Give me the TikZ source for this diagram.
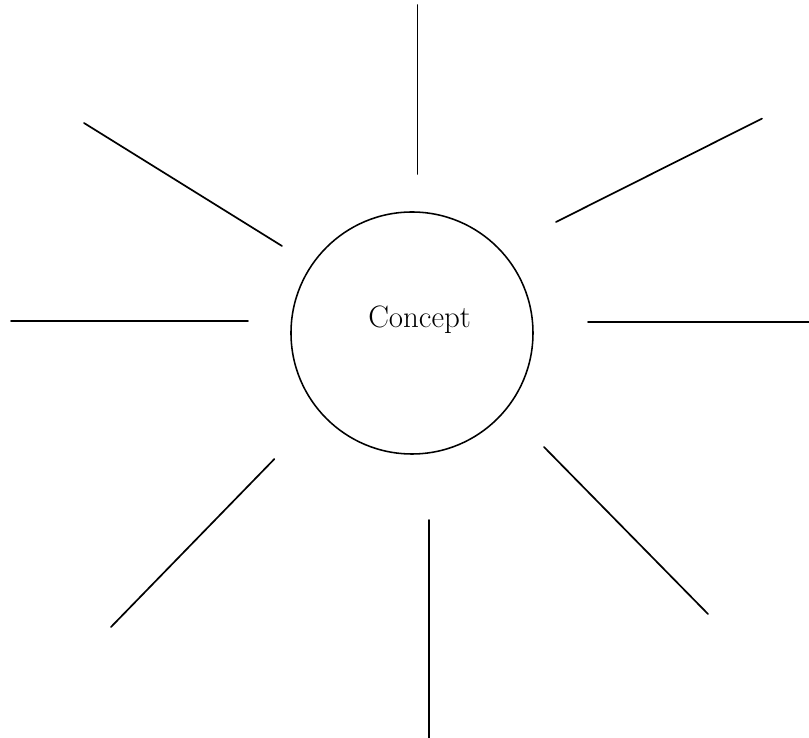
\documentclass[tikz,border=0pt]{standalone}
\usepackage{tikz}
\usetikzlibrary{positioning, calc}

\begin{document}
\begin{tikzpicture}[ray/.style = {line width=1.2pt, line cap=round}, circ/.style = {draw, circle, line width=1.1pt, minimum size=6.05cm, inner sep=0pt} ]

\useasboundingbox (-10.3,8.325) rectangle (9.925,-10.125);

% Concept - the centre
\node[circ] (concept) at (0,0) {};
\node[font=\fontsize{22}{24}\selectfont] (concept_txt) at ([xshift=1.9mm, yshift=3.4mm]concept.center) {Concept};

%--- top ray ---
\coordinate (top_in)  at (0.14, 3.975);
\coordinate (top_out) at (0.14, 8.2);
\draw[ray] (top_in) -- (top_out);

%--- upper right ray ---
\coordinate (ur_in)  at (3.6, 2.775);
\coordinate (ur_out) at (8.75, 5.36);
\draw[ray] (ur_in) -- (ur_out);

%--- right ray ---
\coordinate (r_in)  at (4.4, 0.28);
\coordinate (r_out) at (9.925, 0.28);
\draw[ray] (r_in) -- (r_out);

%--- lower right ray ---
\coordinate (lr_in)  at (3.3, -2.85);
\coordinate (lr_out) at (7.4, -7.025);
\draw[ray] (lr_in) -- (lr_out);

%--- bottom ray ---
\coordinate (bot_in)  at (0.425, -4.675);
\coordinate (bot_out) at (0.425, -10.125);
\draw[ray] (bot_in) -- (bot_out);

%--- lower left ray ---
\coordinate (ll_in)  at (-3.44, -3.15);
\coordinate (ll_out) at (-7.525, -7.35);
\draw[ray] (ll_in) -- (ll_out);

%--- left ray ---
\coordinate (l_in)  at (-4.1, 0.3);
\coordinate (l_out) at (-10.025, 0.3);
\draw[ray] (l_in) -- (l_out);

%--- upper left ray ---
\coordinate (ul_in)  at (-3.25, 2.175);
\coordinate (ul_out) at (-8.2, 5.25);
\draw[ray] (ul_in) -- (ul_out);

\end{tikzpicture}
\end{document}
